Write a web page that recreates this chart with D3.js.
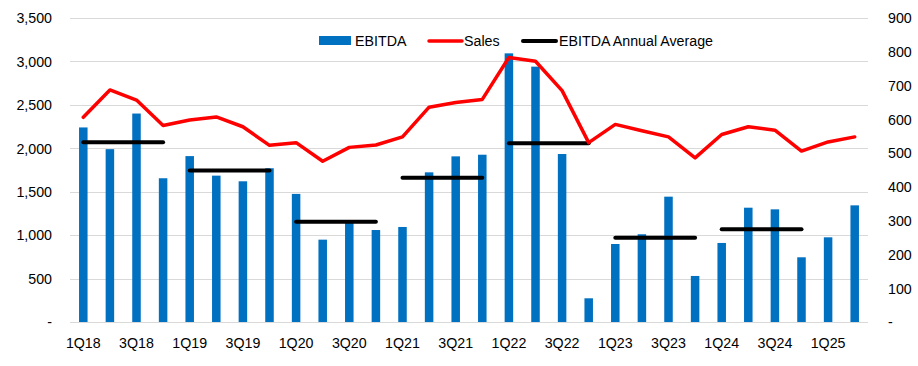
<!DOCTYPE html>
<html>
<head>
<meta charset="utf-8">
<script src="https://cdn.jsdelivr.net/npm/d3@7"></script>
<style>
  body { margin: 0; background: #ffffff; }
  svg { display: block; font-family: "Liberation Sans", Arial, sans-serif; }
</style>
</head>
<body>
<div id="chart"></div>
<script>

// quarters on the x axis
var quarters = ['1Q18','2Q18','3Q18','4Q18','1Q19','2Q19','3Q19','4Q19',
  '1Q20','2Q20','3Q20','4Q20','1Q21','2Q21','3Q21','4Q21',
  '1Q22','2Q22','3Q22','4Q22','1Q23','2Q23','3Q23','4Q23',
  '1Q24','2Q24','3Q24','4Q24','1Q25','2Q25'];

// EBITDA (left axis)
var ebitda = [2240, 1990, 2400, 1655, 1910, 1685, 1620, 1770,
  1475, 948, 1143, 1059, 1094, 1723, 1907, 1926,
  3093, 2940, 1934, 273, 898, 1010, 1443, 530,
  910, 1316, 1297, 745, 975, 1343];

// Sales (right axis)
var sales = [606, 687, 657, 582, 598, 607, 578, 523,
  531, 476, 517, 524, 548, 636, 650, 659,
  783, 772, 685, 531, 585, 566, 548, 486,
  555, 578, 568, 506, 533, 548];

// EBITDA annual average, one per full year
var avgYears = ['18', '19', '20', '21', '22', '23', '24'];
var avgValues = [2070, 1745, 1155, 1662, 2058, 971, 1069];

// tick labels
var leftTicks = [0, 500, 1000, 1500, 2000, 2500, 3000, 3500];
var rightTicks = [0, 100, 200, 300, 400, 500, 600, 700, 800, 900];
var xLabels = ['1Q18','3Q18','1Q19','3Q19','1Q20','3Q20','1Q21','3Q21',
  '1Q22','3Q22','1Q23','3Q23','1Q24','3Q24','1Q25'];

var width = 918, height = 366;
var margin = { top: 18, right: 50, bottom: 44, left: 70 };
var squeeze = 'scale(0.95,1)'; // the source font is a touch narrow

var svg = d3.select('#chart').append('svg')
  .attr('width', width)
  .attr('height', height);

var x = d3.scaleBand()
  .domain(quarters)
  .range([margin.left, width - margin.right])
  .paddingInner(0.68)
  .paddingOuter(0.34);

var yLeft = d3.scaleLinear()
  .domain([0, 3500])
  .range([height - margin.bottom, margin.top]);

var yRight = d3.scaleLinear()
  .domain([0, 900])
  .range([height - margin.bottom, margin.top]);

function fmt(d) {
  return d === 0 ? '-' : d3.format(',')(d);
}

// gridlines
svg.append('g')
  .selectAll('line')
  .data(leftTicks)
  .enter().append('line')
  .attr('x1', margin.left)
  .attr('x2', width - margin.right)
  .attr('y1', function(d) { return Math.round(yLeft(d)) + 0.5; })
  .attr('y2', function(d) { return Math.round(yLeft(d)) + 0.5; })
  .attr('stroke', '#d9d9d9')
  .attr('stroke-width', 1);

// left axis
var leftAxis = svg.append('g')
  .attr('transform', 'translate(' + (margin.left - 18) + ',0)')
  .call(d3.axisLeft(yLeft).tickValues(leftTicks).tickFormat(fmt).tickSize(0).tickPadding(0));

// right axis
var rightAxis = svg.append('g')
  .attr('transform', 'translate(' + (width - margin.right + 20) + ',0)')
  .call(d3.axisRight(yRight).tickValues(rightTicks).tickFormat(fmt).tickSize(0).tickPadding(0));

// bottom axis
var bottomAxis = svg.append('g')
  .attr('transform', 'translate(0,' + (height - margin.bottom + 15) + ')')
  .call(d3.axisBottom(x).tickValues(xLabels).tickSize(0).tickPadding(0));

[leftAxis, rightAxis, bottomAxis].forEach(function(ax) {
  ax.select('.domain').remove();
  ax.selectAll('text')
    .attr('transform', squeeze)
    .style('font-size', '15px')
    .style('font-family', '"Liberation Sans", Arial, sans-serif')
    .attr('fill', '#000000');
});

// bars
svg.append('g')
  .selectAll('rect')
  .data(ebitda)
  .enter().append('rect')
  .attr('x', function(d, i) { return x(quarters[i]); })
  .attr('y', function(d) { return yLeft(d); })
  .attr('width', x.bandwidth())
  .attr('height', function(d) { return yLeft(0) - yLeft(d); })
  .attr('fill', '#0070c0');

// annual average segments, first to last quarter of each year
function center(q) { return x(q) + x.bandwidth() / 2; }

svg.append('g')
  .selectAll('line')
  .data(avgValues)
  .enter().append('line')
  .attr('x1', function(d, i) { return center('1Q' + avgYears[i]); })
  .attr('x2', function(d, i) { return center('4Q' + avgYears[i]); })
  .attr('y1', function(d) { return yLeft(d); })
  .attr('y2', function(d) { return yLeft(d); })
  .attr('stroke', '#000000')
  .attr('stroke-width', 4)
  .attr('stroke-linecap', 'round');

// sales line
var line = d3.line()
  .x(function(d, i) { return center(quarters[i]); })
  .y(function(d) { return yRight(d); });

svg.append('path')
  .datum(sales)
  .attr('d', line)
  .attr('fill', 'none')
  .attr('stroke', '#ff0000')
  .attr('stroke-width', 3.5)
  .attr('stroke-linejoin', 'round')
  .attr('stroke-linecap', 'round');

// legend
var legend = svg.append('g').attr('transform', 'translate(0,41)');

function legendText(xPos, label) {
  legend.append('g')
    .attr('transform', 'translate(' + xPos + ',5)')
    .append('text')
    .attr('transform', squeeze)
    .style('font-size', '15px')
    .text(label);
}

legend.append('rect')
  .attr('x', 319).attr('y', -5)
  .attr('width', 32).attr('height', 9)
  .attr('fill', '#0070c0');
legendText(355, 'EBITDA');

legend.append('line')
  .attr('x1', 429).attr('x2', 462)
  .attr('y1', 0).attr('y2', 0)
  .attr('stroke', '#ff0000').attr('stroke-width', 3.5)
  .attr('stroke-linecap', 'round');
legendText(464, 'Sales');

legend.append('line')
  .attr('x1', 523).attr('x2', 556)
  .attr('y1', 0).attr('y2', 0)
  .attr('stroke', '#000000').attr('stroke-width', 4)
  .attr('stroke-linecap', 'round');
legendText(559, 'EBITDA Annual Average');

</script>
</body>
</html>
